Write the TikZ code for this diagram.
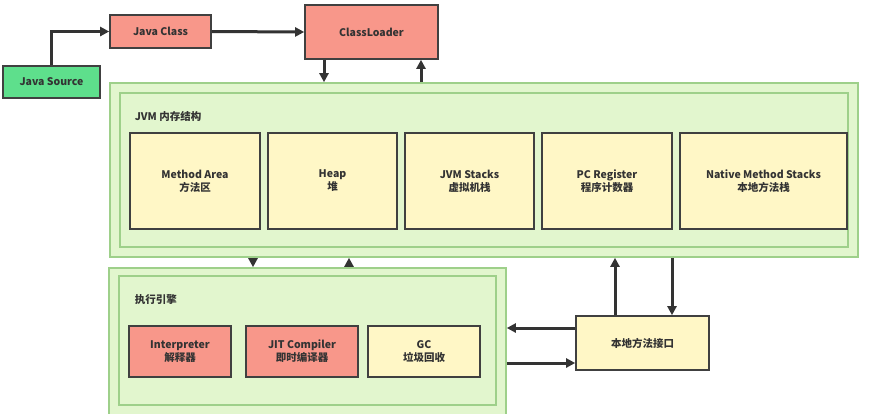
\documentclass[tikz,border=0pt]{standalone}
\usepackage{fontspec}
\setmainfont{Noto Sans CJK SC}
\usetikzlibrary{arrows.meta}
\definecolor{srcgreen}{HTML}{5EDF8C}
\definecolor{salmon}{HTML}{F8978A}
\definecolor{palegreen}{HTML}{E2F6CE}
\definecolor{greenline}{HTML}{9ED08A}
\definecolor{paleyellow}{HTML}{FFF7C6}
\tikzset{
  box/.style={draw=black!75, line width=1.6pt, inner sep=0pt, align=center,
    font=\fontsize{10.5}{13}\selectfont\bfseries, text=black!80},
  area/.style={draw=greenline, line width=1.6pt, fill=palegreen, inner sep=0pt},
  flow/.style={-{Triangle[length=9pt,width=9pt]}, line width=3pt, draw=black!80},
}
\begin{document}
\begin{tikzpicture}[x=1pt,y=-1pt]
  \useasboundingbox (0,0) rectangle (884,413);
  % memory area
  \node[area, minimum width=748, minimum height=174] (jvmout) at (484,170) {};
  \node[area, minimum width=728, minimum height=154] (jvmin) at (484,170) {};
  \node[box, draw=none, anchor=west] (jvmlbl) at (134,116) {JVM 内存结构};
  \node[box, fill=paleyellow, minimum width=130, minimum height=96] (method) at (195,181) {Method Area\\方法区};
  \node[box, fill=paleyellow, minimum width=129, minimum height=96] (heap) at (332.5,181) {Heap\\堆};
  \node[box, fill=paleyellow, minimum width=129, minimum height=96] (stacks) at (469.5,181) {JVM Stacks\\虚拟机栈};
  \node[box, fill=paleyellow, minimum width=130, minimum height=96] (pc) at (607,181) {PC Register\\程序计数器};
  \node[box, fill=paleyellow, minimum width=167, minimum height=96] (native) at (763.5,181) {Native Method Stacks\\本地方法栈};
  % execution engine
  \node[area, minimum width=397, minimum height=150] (engout) at (307.5,343) {};
  \node[area, minimum width=377, minimum height=129] (engin) at (307.5,340.5) {};
  \node[box, draw=none, anchor=west] (englbl) at (134,300) {执行引擎};
  \node[box, fill=salmon, minimum width=102, minimum height=51] (interp) at (180,351.5) {Interpreter\\解释器};
  \node[box, fill=salmon, minimum width=112, minimum height=51] (jit) at (302,351.5) {JIT Compiler\\即时编译器};
  \node[box, fill=paleyellow, minimum width=112, minimum height=51] (gc) at (424,351.5) {GC\\垃圾回收};
  \node[box, fill=paleyellow, minimum width=133, minimum height=54] (jni) at (642.5,343) {本地方法接口};
  % loading
  \node[box, fill=srcgreen, minimum width=97, minimum height=32] (src) at (51.5,82) {Java Source};
  \node[box, fill=salmon, minimum width=101, minimum height=33] (cls) at (160.5,31.5) {Java Class};
  \node[box, fill=salmon, minimum width=133, minimum height=54] (loader) at (371.5,32) {ClassLoader};
  % connectors
  \draw[flow] (src.north) |- (cls.west);
  \draw[flow] (cls.east) -- (loader.west);
  \draw[flow] (loader.south -| 324,0) -- (jvmout.north -| 324,0);
  \draw[flow] (jvmout.north -| 421,0) -- (loader.south -| 421,0);
  \draw[flow] (jvmout.south -| 253,0) -- (engout.north -| 253,0);
  \draw[flow] (engout.north -| 349,0) -- (jvmout.south -| 349,0);
  \draw[flow] (jni.north -| 615,0) -- (jvmout.south -| 615,0);
  \draw[flow] (jvmout.south -| 672,0) -- (jni.north -| 672,0);
  \draw[flow] (jni.west |- 0,328) -- (engout.east |- 0,328);
  \draw[flow] (engout.east |- 0,363) -- (jni.west |- 0,363);
\end{tikzpicture}
\end{document}
